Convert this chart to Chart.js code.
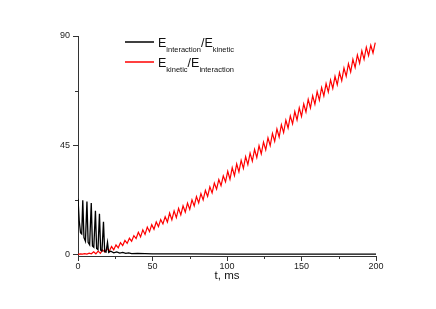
<!DOCTYPE html>
<html>
<head>
<meta charset="utf-8">
<script src="https://cdn.jsdelivr.net/npm/chart.js@4/dist/chart.umd.min.js"></script>
<style>
  html, body { margin: 0; padding: 0; background: #fff; }
  #wrap { width: 436px; height: 309px; }
</style>
</head>
<body>
<div id="wrap"><canvas id="grafico" width="436" height="309"></canvas></div>
<script>
// E_interaction / E_kinetic (black)
var tiempoNegro = [0, 0.8, 1.7, 2.5, 3.2, 4.0, 5.0, 6.0, 6.8, 7.8, 8.9, 9.7, 10.6, 11.7, 12.5, 13.4,
	14.4, 15.2, 16.1, 17.1, 17.9, 18.8, 19.8, 20.6, 22, 24, 26, 28, 30, 32, 34, 36, 40, 50, 75, 100, 150, 200];
var valoresNegro = [23, 14, 9, 8.5, 22.3, 7, 5.5, 21.8, 5, 4, 21.2, 3.5, 3, 18, 2.5, 2,
	16.8, 1.8, 1.5, 13.5, 1.2, 1, 5, 0.9, 1.4, 0.7, 1.1, 0.6, 0.9, 0.5, 0.7, 0.4, 0.5, 0.3, 0.25, 0.2, 0.2, 0.2];

// E_kinetic / E_interaction (red)
var tiempoRojo = [0, 1.5, 3, 4.5, 6, 7.5, 9, 10.5, 12, 13.5, 15, 16.5, 18, 19.5, 21, 22.5, 24, 25.5, 27, 28.5,
	30, 31.5, 33, 34.5, 36, 37.5, 39, 40.5, 42, 43.5, 45, 46.5, 48, 49.5, 51, 52.5, 54, 55.5, 57, 58.5,
	60, 61.5, 63, 64.5, 66, 67.5, 69, 70.5, 72, 73.5, 75, 76.5, 78, 79.5, 81, 82.5, 84, 85.5, 87, 88.5,
	90, 91.5, 93, 94.5, 96, 97.5, 99, 100.5, 102, 103.5, 105, 106.5, 108, 109.5, 111, 112.5, 114, 115.5, 117, 118.5,
	120, 121.5, 123, 124.5, 126, 127.5, 129, 130.5, 132, 133.5, 135, 136.5, 138, 139.5, 141, 142.5, 144, 145.5, 147, 148.5,
	150, 151.5, 153, 154.5, 156, 157.5, 159, 160.5, 162, 163.5, 165, 166.5, 168, 169.5, 171, 172.5, 174, 175.5, 177, 178.5,
	180, 181.5, 183, 184.5, 186, 187.5, 189, 190.5, 192, 193.5, 195, 196.5, 198, 199.5];
var valoresRojo = [0.1, 0.3, 0.15, 0.4, 0.2, 0.6, 0.3, 1.1, 0.3, 1.4, 0.5, 1.9, 1.0, 2.5, 1.4, 3.3, 2.0, 4.0, 2.8, 4.9,
	3.7, 5.8, 4.6, 6.7, 5.5, 7.8, 6.6, 9.2, 7.3, 10.2, 8.3, 11.3, 9.4, 12.3, 10.4, 13.4, 11.5, 14.4, 12.6, 15.6,
	13.4, 17.1, 14.3, 18.0, 15.2, 19.0, 16.3, 20.1, 17.5, 21.2, 18.6, 22.5, 20.0, 23.9, 21.3, 25.1, 22.5, 26.4, 23.9, 27.9,
	25.4, 29.4, 26.9, 30.9, 28.4, 32.4, 29.9, 34.3, 31.0, 35.8, 32.5, 37.3, 34.0, 38.8, 35.5, 40.3, 37.0, 41.8, 38.5, 43.3,
	39.9, 44.8, 41.5, 46.3, 43.1, 48.1, 44.9, 49.9, 46.6, 51.7, 48.4, 53.5, 50.2, 55.3, 52.1, 57.1, 53.8, 58.9, 55.4, 60.4,
	56.9, 62.0, 58.7, 63.9, 60.4, 65.4, 61.9, 67.1, 63.6, 68.8, 65.3, 70.4, 66.9, 71.9, 68.4, 73.4, 69.9, 75.0, 71.6, 76.8,
	73.4, 78.6, 75.2, 80.4, 77.0, 82.2, 78.8, 83.9, 80.4, 85.4, 81.9, 86.2, 83.0, 87.3];

var ticksX = [0, 50, 100, 150, 200];
var ticksY = [0, 45, 90];
var menoresX = [25, 75, 125, 175];
var menoresY = [22.5, 67.5];

function puntos(xs, ys) {
	var out = [];
	for (var i = 0; i < xs.length; i++) out.push({ x: xs[i], y: ys[i] });
	return out;
}

// short minor ticks, like the original plot
var marcasMenores = {
	id: 'marcasMenores',
	afterDraw(chart) {
		var ctx = chart.ctx, a = chart.chartArea;
		var sx = chart.scales.x, sy = chart.scales.y;
		ctx.save();
		ctx.strokeStyle = '#333';
		ctx.lineWidth = 1;
		ctx.beginPath();
		menoresX.forEach(function (v) {
			var px = Math.round(sx.getPixelForValue(v)) + 0.5;
			ctx.moveTo(px, a.bottom);
			ctx.lineTo(px, a.bottom + 3);
		});
		menoresY.forEach(function (v) {
			var py = Math.round(sy.getPixelForValue(v)) + 0.5;
			ctx.moveTo(a.left, py);
			ctx.lineTo(a.left - 3, py);
		});
		ctx.stroke();
		ctx.restore();
	}
};

// legend with subscripts
var leyenda = {
	id: 'leyenda',
	afterDraw(chart) {
		var ctx = chart.ctx;
		var filas = [
			{ color: '#000000', y: 42, partes: [['E', 0], ['interaction', 1], ['/E', 0], ['kinetic', 1]] },
			{ color: '#ff0000', y: 62, partes: [['E', 0], ['kinetic', 1], ['/E', 0], ['interaction', 1]] }
		];
		ctx.save();
		filas.forEach(function (f) {
			ctx.strokeStyle = f.color;
			ctx.lineWidth = 1.5;
			ctx.beginPath();
			ctx.moveTo(125, f.y);
			ctx.lineTo(154, f.y);
			ctx.stroke();
			var x = 158;
			ctx.fillStyle = '#111';
			ctx.textBaseline = 'alphabetic';
			f.partes.forEach(function (p) {
				ctx.font = p[1] ? '7.5px "Liberation Sans", Arial, sans-serif' : '12.5px "Liberation Sans", Arial, sans-serif';
				var yb = p[1] ? f.y + 10 : f.y + 5;
				ctx.fillText(p[0], x, yb);
				x += ctx.measureText(p[0]).width;
			});
		});
		ctx.restore();
	}
};

var fuente = { family: '"Liberation Sans", Arial, sans-serif', size: 9 };

new Chart(document.getElementById('grafico'), {
	type: 'line',
	data: {
		datasets: [{
			label: 'Einteraction/Ekinetic',
			data: puntos(tiempoNegro, valoresNegro),
			borderColor: '#000000',
			borderWidth: 1.3,
			pointRadius: 0,
			tension: 0
		}, {
			label: 'Ekinetic/Einteraction',
			data: puntos(tiempoRojo, valoresRojo),
			borderColor: '#ff0000',
			borderWidth: 1.2,
			pointRadius: 0,
			tension: 0
		}]
	},
	options: {
		responsive: false,
		animation: false,
		devicePixelRatio: 1,
		layout: { padding: { left: 0, right: 60, top: 36, bottom: 20 } },
		plugins: { legend: { display: false }, tooltip: { enabled: false } },
		scales: {
			x: {
				type: 'linear',
				min: 0,
				max: 200,
				afterBuildTicks(axis) { axis.ticks = ticksX.map(function (v) { return { value: v }; }); },
				afterFit(axis) { axis.height = 33; },
				border: { color: '#333', width: 1 },
				grid: { drawOnChartArea: false, drawTicks: true, tickLength: 5, tickColor: '#333' },
				ticks: { color: '#222', font: fuente, padding: 0, maxRotation: 0 },
				title: { display: true, text: 't, ms', color: '#111', font: { family: fuente.family, size: 11.5 }, padding: { top: 2, bottom: 6 } }
			},
			y: {
				type: 'linear',
				min: -0.6,
				max: 90,
				afterBuildTicks(axis) { axis.ticks = ticksY.map(function (v) { return { value: v }; }); },
				afterFit(axis) { axis.width = 78; },
				border: { color: '#333', width: 1 },
				grid: { drawOnChartArea: false, drawTicks: true, tickLength: 5, tickColor: '#333' },
				ticks: { color: '#222', font: fuente, padding: 3 }
			}
		}
	},
	plugins: [marcasMenores, leyenda]
});
</script>
</body>
</html>
